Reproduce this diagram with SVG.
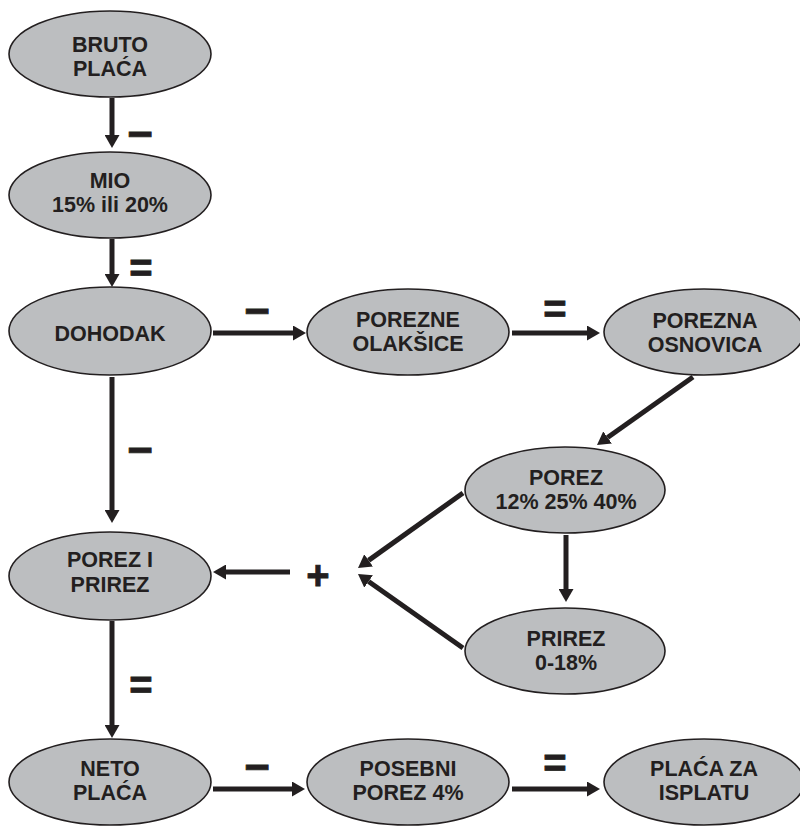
<svg xmlns="http://www.w3.org/2000/svg" width="800" height="828" viewBox="0 0 800 828">
<defs>
<marker id="ah" markerUnits="userSpaceOnUse" markerWidth="14" markerHeight="15" refX="0" refY="7.5" orient="auto">
<path d="M0,0 L13,7.5 L0,15 z" fill="#231f20"/>
</marker>
<style>
.n ellipse{fill:#bcbec0;stroke:#231f20;stroke-width:1.6}
.n text{font-family:"Liberation Sans",Arial,sans-serif;font-weight:bold;font-size:21.5px;fill:#231f20;text-anchor:middle}
.c line{stroke:#231f20;stroke-width:5;marker-end:url(#ah)}
.s{font-family:"Liberation Sans",Arial,sans-serif;font-weight:bold;fill:#231f20;stroke:#231f20;stroke-width:0.8;text-anchor:middle}
</style>
</defs>
<rect width="800" height="828" fill="#fff"/>
<g class="c" id="connectors">
<line x1="112" y1="98" x2="112" y2="135"/>
<line x1="112" y1="239" x2="112" y2="274"/>
<line x1="213" y1="333" x2="293" y2="333"/>
<line x1="512" y1="333" x2="587" y2="333"/>
<line x1="693" y1="377" x2="607.6" y2="437.5"/>
<line x1="112" y1="377" x2="112" y2="510"/>
<line x1="463" y1="493" x2="368.6" y2="560.4"/>
<line x1="463" y1="648" x2="368.6" y2="581.5"/>
<line x1="566" y1="535" x2="566" y2="589"/>
<line x1="290" y1="572" x2="226" y2="572"/>
<line x1="112" y1="621" x2="112" y2="725"/>
<line x1="213" y1="789" x2="292" y2="789"/>
<line x1="512" y1="789" x2="587" y2="789"/>
</g>
<g id="signs">
<text class="s" x="140" y="149" font-size="44">−</text>
<text class="s" x="141" y="282" font-size="40">=</text>
<text class="s" x="257" y="326" font-size="44">−</text>
<text class="s" x="555" y="323" font-size="40">=</text>
<text class="s" x="140" y="465" font-size="44">−</text>
<text class="s" x="318" y="589" font-size="40">+</text>
<text class="s" x="141" y="699" font-size="40">=</text>
<text class="s" x="257" y="782" font-size="44">−</text>
<text class="s" x="555" y="777" font-size="40">=</text>
</g>
<g class="n" id="bruto"><ellipse cx="110" cy="54" rx="101" ry="43"/><text x="110" y="52">BRUTO</text><text x="110" y="76">PLAĆA</text></g>
<g class="n" id="mio"><ellipse cx="110" cy="195" rx="101" ry="43"/><text x="110" y="188">MIO</text><text x="110" y="212">15% ili 20%</text></g>
<g class="n" id="dohodak"><ellipse cx="110" cy="331" rx="101" ry="44"/><text x="110" y="341">DOHODAK</text></g>
<g class="n" id="olaksice"><ellipse cx="408" cy="332" rx="101" ry="43"/><text x="408" y="327">POREZNE</text><text x="408" y="351">OLAKŠICE</text></g>
<g class="n" id="osnovica"><ellipse cx="704" cy="332" rx="100" ry="43"/><text x="705" y="328">POREZNA</text><text x="705" y="352">OSNOVICA</text></g>
<g class="n" id="porez"><ellipse cx="565" cy="490" rx="100" ry="43"/><text x="566" y="485">POREZ</text><text x="566" y="509">12% 25% 40%</text></g>
<g class="n" id="prirez"><ellipse cx="565" cy="651" rx="100" ry="43"/><text x="566" y="646">PRIREZ</text><text x="566" y="670">0-18%</text></g>
<g class="n" id="porez-i-prirez"><ellipse cx="110" cy="576" rx="101" ry="44"/><text x="110" y="567">POREZ I</text><text x="110" y="592">PRIREZ</text></g>
<g class="n" id="neto"><ellipse cx="110" cy="782" rx="101" ry="43"/><text x="110" y="776">NETO</text><text x="110" y="800">PLAĆA</text></g>
<g class="n" id="posebni"><ellipse cx="408" cy="782" rx="101" ry="43"/><text x="408" y="776">POSEBNI</text><text x="408" y="800">POREZ 4%</text></g>
<g class="n" id="isplata"><ellipse cx="704" cy="782" rx="100" ry="43"/><text x="704" y="776">PLAĆA ZA</text><text x="704" y="800">ISPLATU</text></g>
</svg>
